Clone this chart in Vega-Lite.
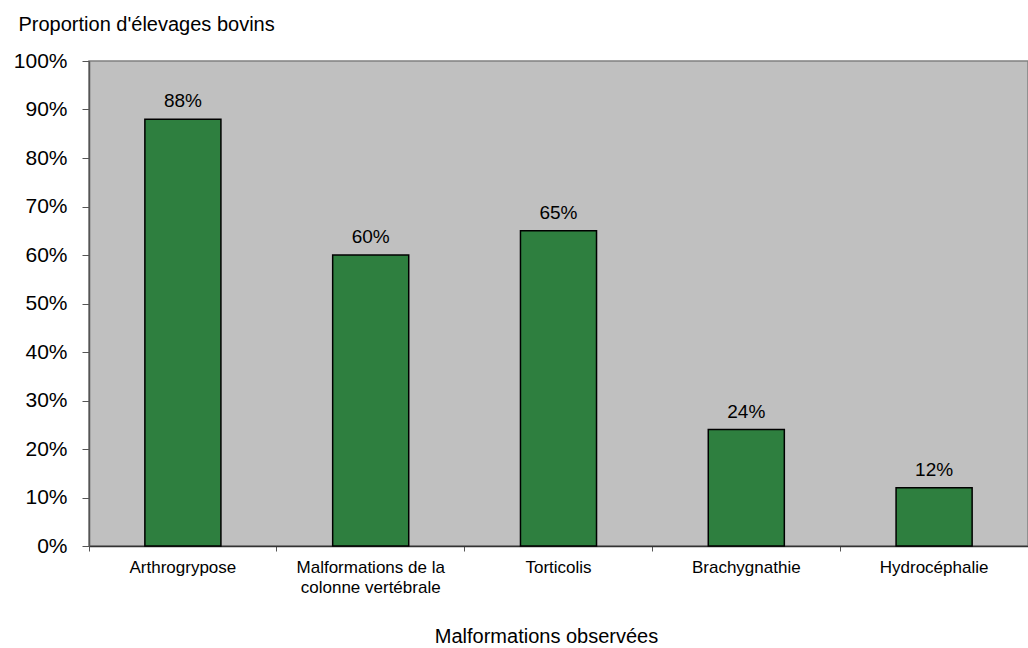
{
  "$schema": "https://vega.github.io/schema/vega-lite/v6.json",
  "width": 939,
  "height": 485,
  "autosize": {"type": "none"},
  "padding": {"left": 89, "top": 61, "right": 0, "bottom": 102},
  "background": "white",
  "config": {
    "font": "Liberation Sans",
    "view": {"fill": "#c0c0c0", "stroke": "#808080", "strokeWidth": 1.5}
  },
  "data": {
    "values": [
      {"cat": "Arthrogrypose", "v": 0.88},
      {"cat": "Malformations de la|colonne vertébrale", "v": 0.60},
      {"cat": "Torticolis", "v": 0.65},
      {"cat": "Brachygnathie", "v": 0.24},
      {"cat": "Hydrocéphalie", "v": 0.12}
    ]
  },
  "encoding": {
    "x": {
      "field": "cat",
      "type": "nominal",
      "sort": null,
      "scale": {"paddingInner": 0, "paddingOuter": 0},
      "axis": {
        "title": "Malformations observées",
        "titleFontSize": 20,
        "titleFontWeight": "normal",
        "titleColor": "black",
        "titlePadding": 31,
        "titleX": 457,
        "titleAlign": "center",
        "labelAngle": 0,
        "labelFontSize": 17,
        "labelColor": "black",
        "labelPadding": 8,
        "labelExpr": "split(datum.label, '|')",
        "labelLineHeight": 20,
        "bandPosition": 0,
        "ticks": true,
        "tickSize": 5,
        "tickColor": "#555555",
        "domainColor": "#333333",
        "domainWidth": 1.5
      }
    },
    "y": {
      "field": "v",
      "type": "quantitative",
      "scale": {"domain": [0, 1], "nice": false},
      "axis": {
        "format": ".0%",
        "values": [0, 0.1, 0.2, 0.3, 0.4, 0.5, 0.6, 0.7, 0.8, 0.9, 1],
        "grid": false,
        "labelFontSize": 21,
        "labelColor": "black",
        "labelPadding": 15,
        "tickSize": 7,
        "tickColor": "#555555",
        "domainColor": "#555555",
        "domainWidth": 1.5,
        "title": "Proportion d'élevages bovins",
        "titleAngle": 0,
        "titleAlign": "left",
        "titleBaseline": "alphabetic",
        "titleX": -71,
        "titleY": -31,
        "titleFontSize": 20,
        "titleFontWeight": "normal",
        "titleColor": "black"
      }
    }
  },
  "layer": [
    {
      "mark": {"type": "bar", "width": {"band": 0.405}, "fill": "#2e7f3f", "stroke": "black", "strokeWidth": 1.5}
    },
    {
      "mark": {"type": "text", "baseline": "alphabetic", "dy": -12, "fontSize": 19, "color": "black"},
      "encoding": {"text": {"field": "v", "type": "quantitative", "format": ".0%"}}
    }
  ]
}
